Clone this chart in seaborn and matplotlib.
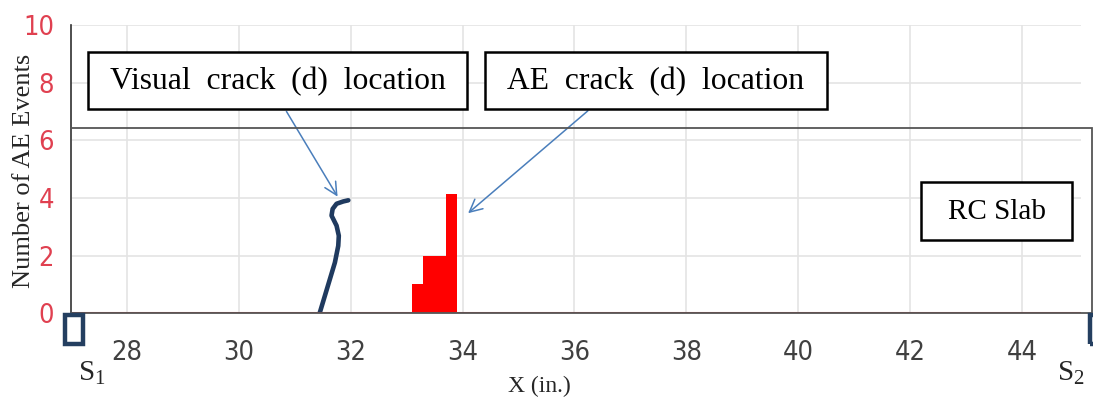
import matplotlib
matplotlib.use("Agg")
import matplotlib.pyplot as plt
from matplotlib import font_manager as fm
import seaborn as sns
import numpy as np
import pandas as pd
from matplotlib.patches import Rectangle

# ---- data ----
bin_edges = [33.1, 33.3, 33.5, 33.7, 33.9]
bin_centers = [33.2, 33.4, 33.6, 33.8]
ae_counts = [1, 2, 2, 4.15]
crack_x = [31.45, 31.54, 31.63, 31.72, 31.78, 31.79, 31.75, 31.66, 31.68, 31.75, 31.87, 31.96]
crack_y = [0.02, 0.60, 1.18, 1.76, 2.34, 2.69, 3.04, 3.39, 3.62, 3.80, 3.88, 3.92]
x_ticks = [28, 30, 32, 34, 36, 38, 40, 42, 44]
y_ticks = [0, 2, 4, 6, 8, 10]

sns.set_style("white")
plt.rcParams['font.family'] = ['Liberation Sans', 'DejaVu Sans']

# find a narrow, regular-weight sans font if one is installed
def _w(f):
    try:
        return int(f.weight)
    except Exception:
        return {'normal': 400, 'regular': 400, 'book': 400, 'medium': 500}.get(str(f.weight), 700)

cands = []
for f in fm.fontManager.ttflist:
    nm = f.name.lower()
    if ('narrow' in nm or 'condensed' in nm or str(f.stretch) in ('condensed', 'semi-condensed', '75', '87')) \
            and 'mono' not in nm and 'serif' not in nm and f.style == 'normal':
        cands.append((abs(_w(f) - 400), f.fname))
cands.sort()
if cands and cands[0][0] <= 100:
    tick_fp = fm.FontProperties(fname=cands[0][1], size=19.5)
else:
    tick_fp = fm.FontProperties(family='Liberation Sans', size=15)

W, H = 1093, 404
fig = plt.figure(figsize=(W / 100, H / 100), dpi=100)
ax = fig.add_axes([70.7 / W, 1 - 313.3 / H, (1081 - 70.7) / W, (313.3 - 25) / H])

def fx(px):
    return px / W

def fy(py):
    return 1 - py / H

ax.set_xlim(27.0, 45.05)
ax.set_ylim(0, 10)
ax.set_xticks(x_ticks)
ax.set_yticks(y_ticks)
ax.grid(True, color='#e4e4e4', lw=1.2)
ax.set_axisbelow(True)

df = pd.DataFrame({"x": bin_centers, "w": ae_counts})
sns.histplot(data=df, x="x", weights="w", bins=bin_edges, color='#ff0000',
             alpha=1, edgecolor='none', linewidth=0, ax=ax, zorder=3)

cdf = pd.DataFrame({"x": crack_x, "y": crack_y})
sns.lineplot(data=cdf, x="x", y="y", sort=False, estimator=None, color='#1f3a5f',
             lw=3.3, ax=ax, zorder=4, solid_capstyle='round', solid_joinstyle='round')

ax.axhline(0, color='#e8383d', lw=2.2, zorder=5)
ax.axhline(0, color='#8b1a1a', lw=0.6, zorder=6)

for s in ['top', 'right', 'bottom']:
    ax.spines[s].set_visible(False)
ax.spines['left'].set_color('#303030')
ax.spines['left'].set_linewidth(1.2)

ax.tick_params(axis='y', colors='#606060', length=10, width=1.2,
               labelcolor='#e04050', pad=2)
ax.tick_params(axis='x', colors='#404040', length=9, width=1.4,
               labelcolor='#404040', pad=10, direction='out')
for lab in ax.get_xticklabels() + ax.get_yticklabels():
    lab.set_fontproperties(tick_fp)
ax.set_xlabel('')
ax.set_ylabel('')

serif = ['Liberation Serif', 'DejaVu Serif']
fig.text(fx(24), fy(171), 'Number of AE Events', rotation=90, ha='center', va='center',
         family=serif, fontsize=19, color='#262626')
fig.text(fx(539), fy(386), 'X (in.)', ha='center', va='center', family=serif,
         fontsize=17, color='#262626')

# overlay frame
fig.patches.append(Rectangle((fx(70.7), fy(313.3)), fx(1092) - fx(70.7), fy(128) - fy(313.3),
                             transform=fig.transFigure, fill=False, ec='#555555', lw=1.3, zorder=2))

def box(x0, y0, x1, y1, text, size):
    fig.patches.append(Rectangle((fx(x0), fy(y1)), fx(x1) - fx(x0), fy(y0) - fy(y1),
                                 transform=fig.transFigure, fc='white', ec='black', lw=1.8, zorder=10))
    fig.text(fx((x0 + x1) / 2), fy((y0 + y1) / 2 + 1), text, ha='center', va='center',
             family=serif, fontsize=size, color='black', zorder=11)

box(88, 52, 467, 109, 'Visual  crack  (d)  location', 22.8)
box(485, 52, 827, 109, 'AE  crack  (d)  location', 22.8)
box(921, 182, 1072, 240, 'RC Slab', 21)

arrow_kw = dict(arrowstyle='->,head_length=0.9,head_width=0.45', color='#4a7ebb', lw=1.1)
ax.annotate('', xy=(fx(339), fy(199)), xycoords='figure fraction',
            xytext=(fx(285), fy(109)), textcoords='figure fraction', arrowprops=arrow_kw, zorder=12)
ax.annotate('', xy=(fx(466), fy(215)), xycoords='figure fraction',
            xytext=(fx(590), fy(109)), textcoords='figure fraction', arrowprops=arrow_kw, zorder=12)

# supports
fig.patches.append(Rectangle((fx(64.5), fy(343.5)), fx(83) - fx(64.5), fy(315) - fy(343.5),
                             transform=fig.transFigure, fill=False, ec='#243f60', lw=3.2, zorder=10))
fig.patches.append(Rectangle((fx(1090), fy(343.5)), fx(1110) - fx(1090), fy(315) - fy(343.5),
                             transform=fig.transFigure, fill=False, ec='#243f60', lw=3.2, zorder=10))
for xs, sub in [(79, '1'), (1058, '2')]:
    fig.text(fx(xs), fy(380), 'S', family=serif, fontsize=21, va='baseline', ha='left')
    fig.text(fx(xs + 15), fy(384), sub, family=serif, fontsize=15, va='baseline', ha='left')

fig.savefig('out.png', dpi=100)
